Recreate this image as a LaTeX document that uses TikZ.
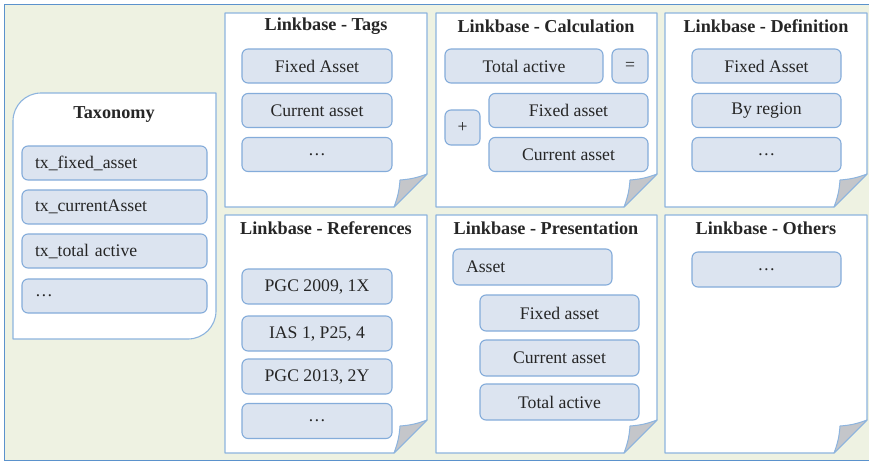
\documentclass[tikz,border=0pt]{standalone}
\usepackage{fontspec}
\setmainfont{Liberation Serif}
\definecolor{bggreen}{RGB}{238,242,226}
\definecolor{outerblue}{RGB}{91,146,204}
\definecolor{cardblue}{RGB}{141,180,222}
\definecolor{itemfill}{RGB}{220,228,240}
\definecolor{itemline}{RGB}{132,172,218}
\definecolor{flapgray}{RGB}{196,198,202}
\definecolor{inkgray}{RGB}{38,38,38}
\tikzset{
  card/.style={draw=cardblue, fill=white, line width=1.1pt, line join=round},
  flap/.style={draw=cardblue, fill=flapgray, line width=1pt, line join=round},
  item/.style={draw=itemline, fill=itemfill, line width=1.1pt, rounded corners=6pt,
    minimum height=34pt, inner sep=0pt, text=inkgray,
    font=\fontsize{17.7}{20}\selectfont},
  leftitem/.style={item, inner xsep=13pt, align=left},
  cardtitle/.style={text=inkgray, font=\fontsize{18.2}{21}\selectfont\bfseries, inner sep=0pt}
}
% page with a folded lower-right corner: x1, y1, x2, y2
\newcommand\foldcard[4]{%
  \pgfmathsetmacro\fcy{#4-33}\pgfmathsetmacro\fcx{#3-33}%
  \pgfmathsetmacro\fix{#3-27}\pgfmathsetmacro\fiy{#4-27}%
  \draw[card] (#1,#2) -- (#3,#2) -- (#3,\fcy) -- (\fcx,#4) -- (#1,#4) -- cycle;
  \draw[flap] (#3,\fcy) to[bend left=8] (\fix,\fiy) to[bend left=8] (\fcx,#4) -- cycle;
}
\begin{document}
\begin{tikzpicture}[x=1pt, y=-1pt]
  \useasboundingbox (0,0) rectangle (869,463);
  \fill[white] (0,0) rectangle (869,463);
  \draw[fill=bggreen, draw=outerblue, line width=1pt] (4,4) rectangle (871,460);

  % taxonomy card: rounded top-left and bottom-right corners
  \draw[card] (13,339) -- (13,121) arc[start angle=180, end angle=90, radius=28pt]
    -- (216,93) -- (216,311) arc[start angle=0, end angle=-90, radius=28pt] -- cycle;
  \node[cardtitle] (taxT) at (114,115) {Taxonomy};
  \node[leftitem, text width=159pt] (tx1) at (114.5,163) {tx\_fixed\_asset};
  \node[leftitem, text width=159pt] (tx2) at (114.5,207) {tx\_currentAsset};
  \node[leftitem, text width=159pt] (tx3) at (114.5,251) {tx\_total active};
  \node[leftitem, text width=159pt] (tx4) at (114.5,296) {\dots};

  % linkbase pages
  \foldcard{225}{13}{427}{207}
  \foldcard{436}{13}{657}{207}
  \foldcard{665}{13}{867}{207}
  \foldcard{225}{215}{427}{453}
  \foldcard{436}{215}{657}{453}
  \foldcard{665}{215}{867}{453}

  % tags
  \node[cardtitle] (tagT) at (326,26) {Linkbase - Tags};
  \node[item, minimum width=150pt] (tag1) at (317,66) {Fixed Asset};
  \node[item, minimum width=150pt] (tag2) at (317,110.5) {Current asset};
  \node[item, minimum width=150pt] (tag3) at (317,154.5) {\dots};

  % calculation
  \node[cardtitle] (calT) at (546,26) {Linkbase - Calculation};
  \node[item, minimum width=158pt] (cal1) at (524,66) {Total active};
  \node[item, minimum width=36pt] (calEq) at (630,66) {=};
  \node[item, minimum width=35pt, minimum height=35pt] (calPl) at (462.5,127.5) {+};
  \node[item, minimum width=159pt] (cal2) at (568.5,110.5) {Fixed asset};
  \node[item, minimum width=159pt] (cal3) at (568.5,154.5) {Current asset};

  % definition
  \node[cardtitle] (defT) at (766,26) {Linkbase - Definition};
  \node[item, minimum width=149pt] (def1) at (766.5,66) {Fixed Asset};
  \node[item, minimum width=149pt] (def2) at (766.5,110.5) {By region};
  \node[item, minimum width=149pt] (def3) at (766.5,154.5) {\dots};

  % references
  \node[cardtitle] (refT) at (326,228) {Linkbase - References};
  \node[item, minimum width=150pt, minimum height=35pt] (ref1) at (317,286.5) {PGC 2009, 1X};
  \node[item, minimum width=150pt, minimum height=35pt] (ref2) at (317,333.5) {IAS 1, P25, 4};
  \node[item, minimum width=150pt, minimum height=35pt] (ref3) at (317,376.5) {PGC 2013, 2Y};
  \node[item, minimum width=150pt, minimum height=35pt] (ref4) at (317,421) {\dots};

  % presentation
  \node[cardtitle] (preT) at (546,228) {Linkbase - Presentation};
  \node[leftitem, text width=133pt, minimum height=36pt] (pre1) at (532.5,267) {Asset};
  \node[item, minimum width=159pt, minimum height=36pt] (pre2) at (559.5,313) {Fixed asset};
  \node[item, minimum width=159pt, minimum height=36pt] (pre3) at (559.5,358) {Current asset};
  \node[item, minimum width=159pt, minimum height=36pt] (pre4) at (559.5,402) {Total active};

  % others
  \node[cardtitle] (othT) at (766,228) {Linkbase - Others};
  \node[item, minimum width=149pt, minimum height=35pt] (oth1) at (766.5,269.5) {\dots};
\end{tikzpicture}
\end{document}
